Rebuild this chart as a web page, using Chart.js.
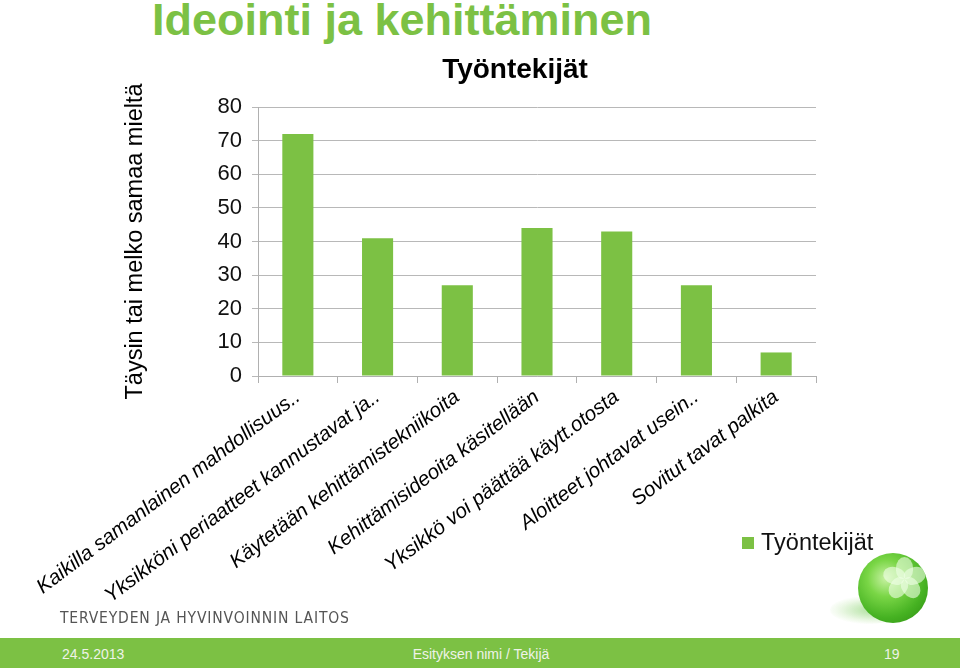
<!DOCTYPE html>
<html lang="fi">
<head>
<meta charset="utf-8">
<title>Ideointi ja kehittäminen</title>
<script src="https://cdn.jsdelivr.net/npm/chart.js@4/dist/chart.umd.min.js"></script>
<style>
  html, body { margin: 0; padding: 0; background: #fff; }
  body { width: 960px; height: 671px; position: relative; overflow: hidden; font-family: "Liberation Sans", Arial, sans-serif; }
  #otsikko {
    position: absolute; left: 152px; top: -6px; margin: 0; line-height: normal;
    font-family: "Liberation Sans Narrow", "Liberation Sans", sans-serif;
    font-weight: bold; font-size: 45px; color: #7cc144; white-space: nowrap;
  }
  #kaavio { position: absolute; left: 0; top: 0; width: 960px; height: 638px; }
  #selite {
    position: absolute; left: 742px; top: 529px; font-size: 23.5px; color: #111;
    display: flex; align-items: center; white-space: nowrap;
  }
  #selite span.ruutu { display: inline-block; width: 12px; height: 12px; margin-right: 7px; }
  #logo {
    position: absolute; left: 60px; top: 609px; font-size: 15.5px; color: #555;
    letter-spacing: 0.85px; font-family: "DejaVu Sans Condensed", "Liberation Sans Narrow", sans-serif;
  }
  #pallo-varjo {
    position: absolute; left: 830px; top: 596px; width: 74px; height: 28px; border-radius: 50%;
    background: radial-gradient(ellipse at 62% 50%, rgba(110,200,80,0.6), rgba(160,220,130,0.2) 55%, rgba(255,255,255,0) 75%);
  }
  #pallo {
    position: absolute; left: 858px; top: 553px; width: 70px; height: 70px; border-radius: 50%; overflow: hidden;
    background: radial-gradient(circle at 40% 36%, #c8f2a4 0%, #7ad646 30%, #46b222 64%, #2a8a10 100%);
  }
  .terale {
    position: absolute; width: 17px; height: 22px; border-radius: 50% 50% 40% 40%;
    background: rgba(240,255,232,0.6); left: 38px; top: 4px; transform-origin: 8.5px 22px;
  }
  #alapalkki {
    position: absolute; left: 0; top: 638px; width: 960px; height: 30px; background: #7cc144;
    color: #eef3e8; font-size: 14px;
  }
  #alapalkki div { position: absolute; top: 8px; }
</style>
</head>
<body>
<h1 id="otsikko">Ideointi ja kehittäminen</h1>
<div id="kaavio"><canvas id="c"></canvas></div>
<div id="selite"></div>
<div id="logo">TERVEYDEN JA HYVINVOINNIN LAITOS</div>
<div id="pallo-varjo"></div>
<div id="pallo">
  <div class="terale" style="transform: rotate(0deg)"></div>
  <div class="terale" style="transform: rotate(72deg)"></div>
  <div class="terale" style="transform: rotate(144deg)"></div>
  <div class="terale" style="transform: rotate(216deg)"></div>
  <div class="terale" style="transform: rotate(288deg)"></div>
</div>
<div id="alapalkki">
  <div style="left:62px">24.5.2013</div>
  <div style="left:0; width:962px; text-align:center">Esityksen nimi / Tekijä</div>
  <div style="left:884px">19</div>
</div>
<script>
const kategoriat = [
  "Kaikilla samanlainen mahdollisuus..",
  "Yksikköni periaatteet kannustavat ja..",
  "Käytetään kehittämistekniikoita",
  "Kehittämisideoita käsitellään",
  "Yksikkö voi päättää käytt.otosta",
  "Aloitteet johtavat usein..",
  "Sovitut tavat palkita"
];
const tyontekijat = [72, 41, 27, 44, 43, 27, 7];
const sarjanNimi = "Työntekijät";
const vari = "#7cc144";

// otsikko keskitetään kuvaajan omalle alueelle eikä koko leveydelle
const otsikonPaikka = {
  id: "otsikonPaikka",
  afterLayout(chart) {
    const tb = chart.titleBlock;
    if (tb) { tb.left = 214; tb.right = 816; }
  }
};

const chart = new Chart(document.getElementById("c"), {
  type: "bar",
  data: {
    labels: kategoriat,
    datasets: [{
      label: sarjanNimi,
      data: tyontekijat,
      backgroundColor: vari,
      borderWidth: 0,
      categoryPercentage: 1,
      barPercentage: 0.39
    }]
  },
  plugins: [otsikonPaikka],
  options: {
    responsive: true,
    maintainAspectRatio: false,
    animation: false,
    layout: { padding: { top: 53, right: 144, left: 121, bottom: 0 } },
    plugins: {
      legend: { display: false },
      tooltip: { enabled: false },
      title: {
        display: true,
        text: sarjanNimi,
        color: "#000",
        font: { family: "Liberation Sans", size: 28, weight: "bold" },
        padding: { top: 0, bottom: 20.4 }
      }
    },
    scales: {
      x: {
        grid: { drawOnChartArea: false, color: "#b0b0b0", tickLength: 7, offset: true },
        border: { color: "#b0b0b0" },
        ticks: {
          color: "#000",
          font: { family: "Liberation Sans", size: 20.5, style: "italic" },
          minRotation: 37, maxRotation: 37, autoSkip: false, padding: 2
        },
        afterFit: s => { s.height = 262; }
      },
      y: {
        min: 0, max: 80,
        ticks: { stepSize: 10, color: "#111", font: { family: "Liberation Sans", size: 22 }, padding: 10 },
        grid: { color: "#b8b8b8", tickLength: 6 },
        border: { color: "#b0b0b0" },
        title: {
          display: true,
          text: "Täysin tai melko samaa mieltä",
          color: "#000",
          font: { family: "Liberation Sans", size: 23.5 },
          padding: { top: 0, bottom: 0 }
        },
        afterFit: s => { s.width = 137; }
      }
    }
  }
});

// selite datasta
const sel = document.getElementById("selite");
chart.data.datasets.forEach(ds => {
  const r = document.createElement("span");
  r.className = "ruutu";
  r.style.background = ds.backgroundColor;
  sel.appendChild(r);
  sel.appendChild(document.createTextNode(ds.label));
});
</script>
</body>
</html>
